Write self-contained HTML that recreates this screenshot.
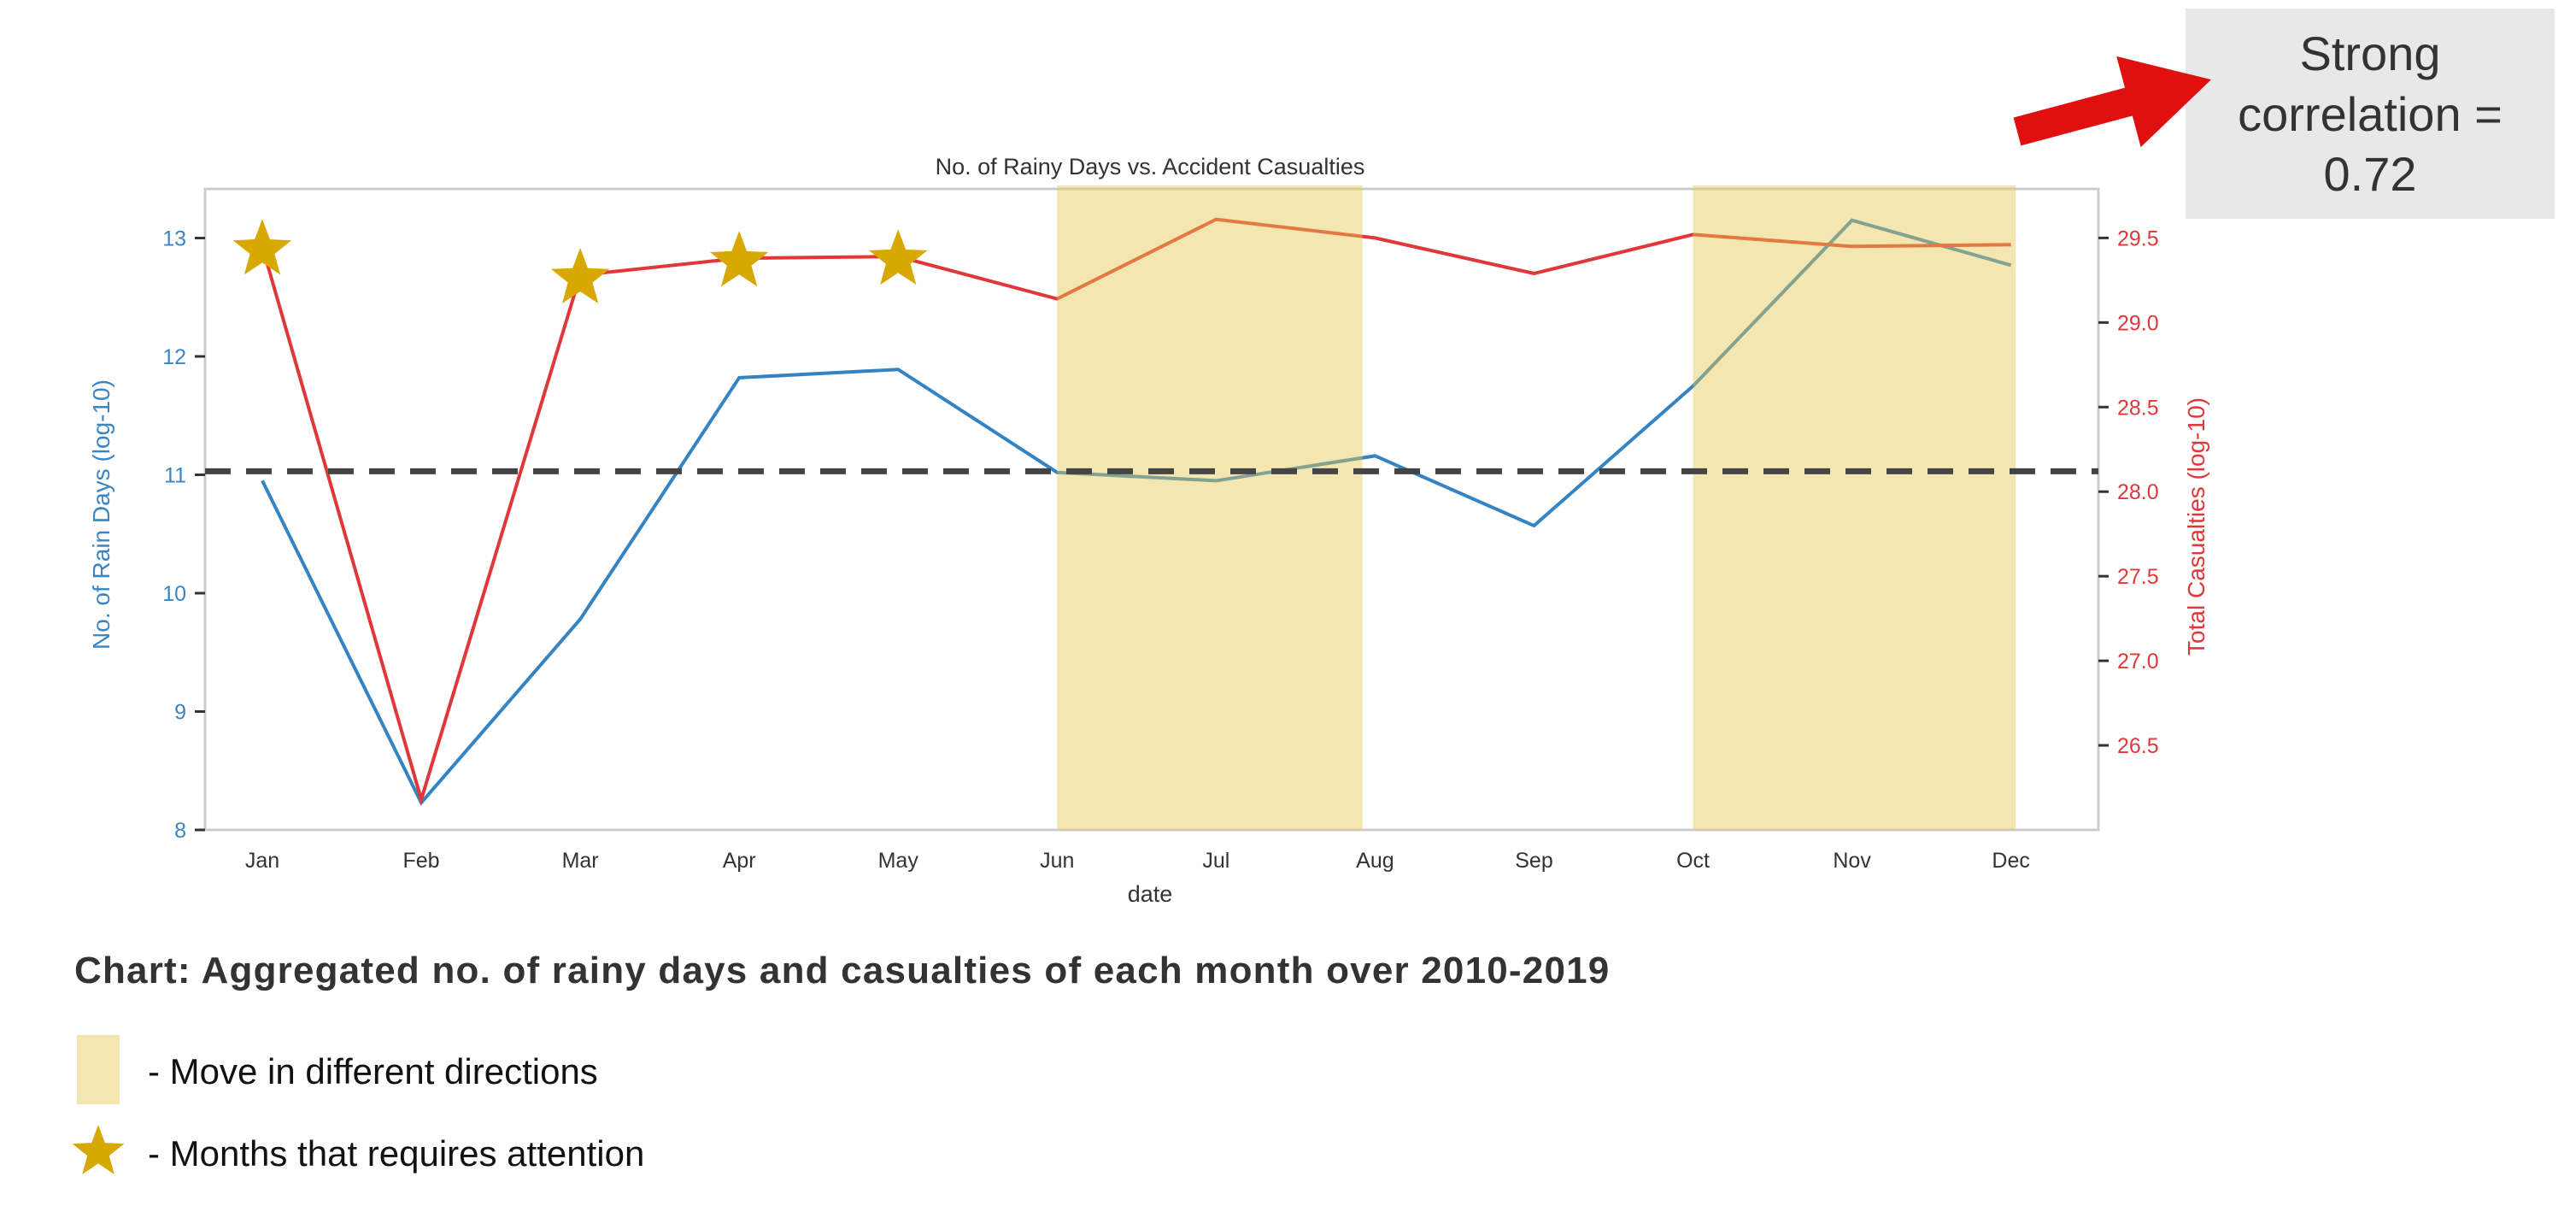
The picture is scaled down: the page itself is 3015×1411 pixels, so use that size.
<!DOCTYPE html>
<html><head><meta charset="utf-8"><style>
html,body{margin:0;padding:0;background:#fff;}
svg{display:block;font-family:"Liberation Sans",sans-serif;}
</style></head><body>
<svg id="chart" width="3015" height="1411" viewBox="0 0 3015 1411" xmlns="http://www.w3.org/2000/svg">
<g id="plot"></g>
<g>
<rect x="2558" y="10" width="432" height="246" fill="#e8e8e8"/>
<text x="2774" y="82" font-size="56" text-anchor="middle" fill="#333">Strong</text>
<text x="2774" y="153" font-size="56" text-anchor="middle" fill="#333">correlation =</text>
<text x="2774" y="223" font-size="56" text-anchor="middle" fill="#333">0.72</text>
<g transform="translate(2361,154) rotate(-15)">
<polygon points="0,-17 135,-17 135,-55 235,0 135,55 135,17 0,17" fill="#e01010"/>
</g>
<text x="87" y="1150" font-size="44" fill="#333" font-weight="bold" letter-spacing="1.2">Chart: Aggregated no. of rainy days and casualties of each month over 2010-2019</text>
<rect x="90" y="1211" width="50" height="81" fill="#f3e6b0"/>
<text x="173" y="1268" font-size="42" fill="#111">- Move in different directions</text>
<polygon points="" id="legstar" fill="#d9a800"/>
<text x="173" y="1364" font-size="42" fill="#111">- Months that requires attention</text>
</g>
</svg>
<script>
const months=["Jan","Feb","Mar","Apr","May","Jun","Jul","Aug","Sep","Oct","Nov","Dec"];
const rainDays=[10.95,8.23,9.78,11.82,11.89,11.02,10.95,11.16,10.57,11.75,13.15,12.77];
const casualties=[29.45,26.18,29.28,29.38,29.39,29.14,29.61,29.5,29.29,29.52,29.45,29.46];
const leftTicks=[8,9,10,11,12,13];
const rightTicks=["26.5","27.0","27.5","28.0","28.5","29.0","29.5"];
const starMonths=["Jan","Mar","Apr","May"];
const bands=[[5,6.92],[9,11.03]];
const meanRain=11.03;

const NS="http://www.w3.org/2000/svg";
const L=240,R=2456,T=221,B=971;
const x=i=>L+(i+0.36)*(R-L)/11.91;
const yL=v=>B-(v-8)*138.5;
const yR=v=>B-(v-26)*(B-T)/3.79;
const g=document.getElementById('plot');
function el(t,a,p){const e=document.createElementNS(NS,t);for(const k in a)e.setAttribute(k,a[k]);(p||g).appendChild(e);return e;}
function star(cx,cy,r){let p=[];for(let i=0;i<10;i++){const rr=i%2?r*0.42:r;const a=-Math.PI/2+i*Math.PI/5;p.push((cx+rr*Math.cos(a)).toFixed(1)+","+(cy+rr*Math.sin(a)).toFixed(1));}return p.join(" ");}

let t=el('text',{x:1346,y:204,'font-size':27,'text-anchor':'middle',fill:'#333'});t.textContent="No. of Rainy Days vs. Accident Casualties";


let fr=el('rect',{x:L,y:T,width:R-L,height:B-T,fill:'none',stroke:'#ccc','stroke-width':3});


leftTicks.forEach(v=>{
 let tk=el('line',{x1:L-12,x2:L,y1:yL(v),y2:yL(v),stroke:'#333','stroke-width':3});
 
 
 let tx=el('text',{x:L-22,y:yL(v)+9,'font-size':25,'text-anchor':'end',fill:'#3a86c4'});tx.textContent=v;
 
 
});
rightTicks.forEach(s=>{const v=parseFloat(s);
 let tk=el('line',{x1:R,x2:R+12,y1:yR(v),y2:yR(v),stroke:'#333','stroke-width':3});
 
 
 let tx=el('text',{x:R+22,y:yR(v)+9,'font-size':25,fill:'#e03838'});tx.textContent=s;
 
 
});
months.forEach((m,i)=>{
 let tx=el('text',{x:x(i),y:1015,'font-size':25,'text-anchor':'middle',fill:'#333'});tx.textContent=m;
 
 
});
let xl=el('text',{x:1346,y:1055,'font-size':27,'text-anchor':'middle',fill:'#333'});xl.textContent="date";


let yl=el('text',{x:0,y:0,'font-size':28,'text-anchor':'middle',fill:'#3a86c4',transform:`translate(128,${(T+B)/2+6}) rotate(-90)`});yl.textContent="No. of Rain Days (log-10)";


let yr=el('text',{x:0,y:0,'font-size':28,'text-anchor':'middle',fill:'#e03838',transform:`translate(2580,${(T+B)/2+20}) rotate(-90)`});yr.textContent="Total Casualties (log-10)";



let bl=el('polyline',{points:rainDays.map((v,i)=>x(i)+","+yL(v)).join(" "),fill:'none',stroke:'#3484c4','stroke-width':4});


let rl=el('polyline',{points:casualties.map((v,i)=>x(i)+","+yR(v)).join(" "),fill:'none',stroke:'#e03838','stroke-width':4});


bands.forEach(b=>{
 let r=el('rect',{x:x(b[0]),y:T-4,width:x(b[1])-x(b[0]),height:B-T+4,fill:'#e5c850','fill-opacity':0.45});
 
 
});
let dl=el('line',{x1:L,x2:R,y1:yL(meanRain),y2:yL(meanRain),stroke:'#444','stroke-width':7,'stroke-dasharray':'30 18'});


starMonths.forEach(m=>{const i=months.indexOf(m);
 let s=el('polygon',{points:star(x(i),yR(casualties[i])+4,36),fill:'#d9a800'});
 
 
});
document.getElementById('legstar').setAttribute('points',star(115,1348,32));
</script>
</body></html>
